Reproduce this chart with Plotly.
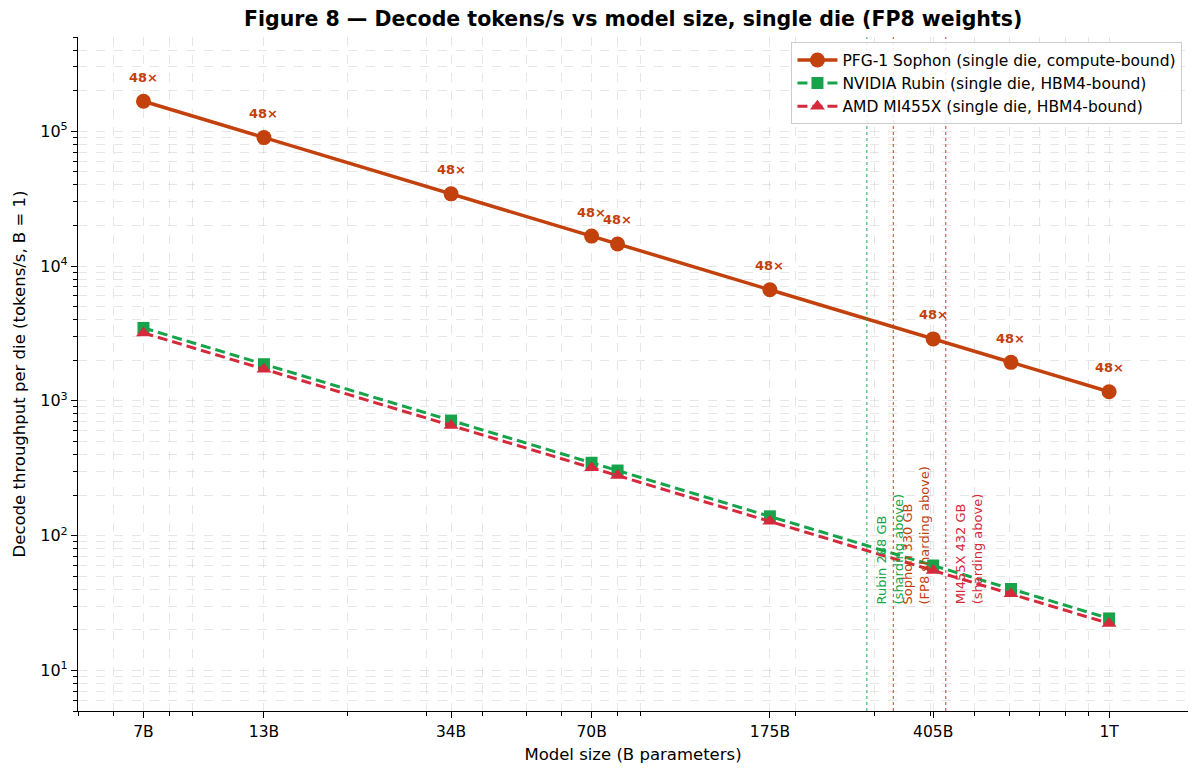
import math
import plotly.graph_objects as go

# ---- data ----
model_sizes = [7, 13, 34, 70, 80, 175, 405, 604, 1000]
sophon = [166700, 89700, 34300, 16670, 14580, 6670, 2880, 1930, 1167]
rubin = [3473, 1869, 714, 347, 304, 139, 60.0, 40.2, 24.3]
amd = [3190, 1718, 657, 319, 279, 128, 55.2, 37.0, 22.3]
ratio_labels = ["48×"] * len(model_sizes)

x_tickvals = [7, 13, 34, 70, 175, 405, 1000]
x_ticktext = ["7B", "13B", "34B", "70B", "175B", "405B", "1T"]
y_tickvals = [10, 100, 1000, 10000, 100000]
y_ticktext = ["10<sup>1</sup>", "10<sup>2</sup>", "10<sup>3</sup>", "10<sup>4</sup>", "10<sup>5</sup>"]

cap_lines = [288, 330, 432]
cap_text_y = 30
cap_texts = ["Rubin 288 GB<br>(sharding above)",
             "Sophon 330 GB<br>(FP8 sharding above)",
             "MI455X 432 GB<br>(sharding above)"]

C_SOPHON = "#c2410c"
C_RUBIN = "#16a34a"
C_AMD = "#d42a3c"
cap_colors = [C_RUBIN, C_SOPHON, C_AMD]

FONT = "DejaVu Sans"

fig = go.Figure()
fig.add_trace(go.Scatter(
    x=model_sizes, y=sophon, mode="lines+markers",
    name="PFG-1 Sophon (single die, compute-bound)",
    line=dict(color=C_SOPHON, width=3.5),
    marker=dict(symbol="circle", size=15, color=C_SOPHON),
))
fig.add_trace(go.Scatter(
    x=model_sizes, y=rubin, mode="lines+markers",
    name="NVIDIA Rubin (single die, HBM4-bound)",
    line=dict(color=C_RUBIN, width=3, dash="10px,5px"),
    marker=dict(symbol="square", size=12, color=C_RUBIN),
))
fig.add_trace(go.Scatter(
    x=model_sizes, y=amd, mode="lines+markers",
    name="AMD MI455X (single die, HBM4-bound)",
    line=dict(color=C_AMD, width=3, dash="10px,5px"),
    marker=dict(symbol="triangle-up", size=13, color=C_AMD),
))

annotations = []
# annotations on log axes take log10 coordinates in plotly
for xv, yv, t in zip(model_sizes, sophon, ratio_labels):
    annotations.append(dict(
        x=math.log10(xv), y=math.log10(yv), xref="x", yref="y", text="<b>" + t + "</b>",
        showarrow=False, yshift=24, font=dict(family=FONT, size=13, color=C_SOPHON),
        xanchor="center", yanchor="middle"))

shapes = []
for xv, t, c in zip(cap_lines, cap_texts, cap_colors):
    shapes.append(dict(type="line", xref="x", yref="paper", x0=xv, x1=xv, y0=0, y1=1,
                       line=dict(color=c, width=1.2, dash="dot"), opacity=0.8))
    annotations.append(dict(
        x=math.log10(xv), y=math.log10(cap_text_y), xref="x", yref="y", text=t, textangle=-90,
        showarrow=False, xanchor="left", yanchor="bottom", xshift=5, align="left",
        font=dict(family=FONT, size=13, color=c)))

annotations.append(dict(
    text="<b>Figure 8 — Decode tokens/s vs model size, single die (FP8 weights)</b>",
    x=0.5, y=1.0, xref="paper", yref="paper", yanchor="bottom", yshift=4, showarrow=False,
    font=dict(family=FONT, size=20.5, color="black")))

grid_color = "rgba(200,200,200,0.45)"
minor_x = sorted(set([v * d for d in (1, 10, 100, 1000) for v in range(2, 10) if 5 <= v * d <= 1500]) - set(x_tickvals))
minor_y = [v * d for d in (1, 10, 100, 1000, 10000, 100000) for v in range(2, 10) if 5 <= v * d <= 500000]

fig.update_layout(
    width=1200, height=775,
    margin=dict(l=78, r=12, t=37, b=64),
    plot_bgcolor="white", paper_bgcolor="white",
    font=dict(family=FONT, size=15, color="black"),
    shapes=shapes, annotations=annotations,
    legend=dict(x=0.995, y=0.992, xanchor="right", yanchor="top",
                bgcolor="rgba(255,255,255,0.85)", bordercolor="#cccccc", borderwidth=1,
                font=dict(family=FONT, size=15.5), itemwidth=40),
    showlegend=True,
)

fig.update_xaxes(
    type="log", range=[0.69897, 3.17609],
    tickvals=x_tickvals, ticktext=x_ticktext,
    ticks="outside", ticklen=6, tickwidth=1.2, tickcolor="black",
    showline=True, linecolor="black", linewidth=1.2, mirror=False,
    showgrid=True, gridcolor=grid_color, griddash="dash", gridwidth=1,
    zeroline=False,
    tickfont=dict(family=FONT, size=15.5),
    title=dict(text="Model size (B parameters)", font=dict(family=FONT, size=16.5), standoff=8),
    minor=dict(tickvals=minor_x, ticks="outside", ticklen=3.5, tickcolor="black",
               showgrid=True, gridcolor=grid_color, griddash="dash", gridwidth=1),
)
fig.update_yaxes(
    type="log", range=[0.69897, 5.69897],
    tickvals=y_tickvals, ticktext=y_ticktext,
    ticks="outside", ticklen=6, tickwidth=1.2, tickcolor="black",
    showline=True, linecolor="black", linewidth=1.2, mirror=False,
    showgrid=True, gridcolor=grid_color, griddash="dash", gridwidth=1,
    zeroline=False,
    tickfont=dict(family=FONT, size=16),
    title=dict(text="Decode throughput per die (tokens/s, B = 1)", font=dict(family=FONT, size=16.5), standoff=10),
    minor=dict(tickvals=minor_y, ticks="outside", ticklen=3.5, tickcolor="black",
               showgrid=True, gridcolor=grid_color, griddash="dash", gridwidth=1),
)

fig.write_html("out.html")
